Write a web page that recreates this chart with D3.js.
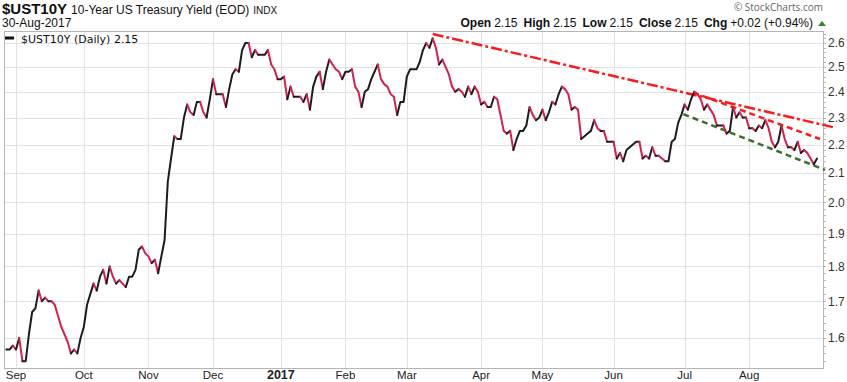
<!DOCTYPE html>
<html><head><meta charset="utf-8">
<script src="https://cdn.jsdelivr.net/npm/d3@7"></script>
<style>body{margin:0;background:#fff}svg{display:block}</style>
</head><body><svg id="c" width="847" height="382"></svg>
<script>
// Daily closes, 29-Aug-2016 .. 30-Aug-2017 (bond-market trading days)
const values = [
  1.57,1.57,1.58,
  // Sep
  1.57,1.60,1.54,1.54,1.61,1.67,1.68,1.73,1.70,1.71,1.70,1.70,1.69,1.66,1.63,1.61,1.59,1.56,1.57,1.56,1.60,
  // Oct
  1.63,1.69,1.72,1.75,1.73,1.77,1.79,1.75,1.80,1.77,1.75,1.76,1.75,1.74,1.77,1.77,1.79,1.85,1.86,1.84,
  // Nov
  1.83,1.81,1.82,1.78,1.83,1.88,2.07,2.15,2.23,2.22,2.22,2.30,2.35,2.32,2.31,2.36,2.36,2.32,2.30,2.37,
  // Dec
  2.45,2.39,2.39,2.39,2.34,2.41,2.47,2.49,2.48,2.57,2.60,2.60,2.54,2.57,2.55,2.55,2.55,2.57,2.51,2.49,2.45,
  // Jan
  2.45,2.46,2.37,2.42,2.38,2.38,2.38,2.36,2.39,2.33,2.42,2.46,2.48,2.41,2.48,2.53,2.51,2.49,2.48,2.45,
  // Feb
  2.48,2.48,2.49,2.42,2.40,2.34,2.40,2.41,2.45,2.48,2.51,2.45,2.43,2.42,2.39,2.38,2.31,2.36,2.36,
  // Mar
  2.46,2.49,2.49,2.49,2.52,2.57,2.60,2.58,2.62,2.58,2.51,2.53,2.50,2.47,2.42,2.40,2.41,2.40,2.38,2.42,2.39,2.42,2.40,
  // Apr
  2.35,2.36,2.34,2.34,2.38,2.37,2.31,2.25,2.24,2.25,2.18,2.22,2.25,2.25,2.27,2.34,2.31,2.29,2.30,
  // May
  2.33,2.29,2.32,2.36,2.35,2.39,2.42,2.41,2.39,2.33,2.34,2.33,2.22,2.23,2.24,2.25,2.29,2.26,2.25,2.25,2.21,2.21,
  // Jun
  2.21,2.15,2.17,2.14,2.18,2.19,2.20,2.21,2.21,2.15,2.16,2.15,2.19,2.16,2.16,2.15,2.14,2.14,2.21,2.22,2.28,2.31,
  // Jul
  2.35,2.33,2.37,2.40,2.39,2.37,2.33,2.35,2.33,2.31,2.27,2.27,2.27,2.24,2.25,2.34,2.30,2.32,2.30,2.30,
  // Aug
  2.26,2.26,2.25,2.27,2.26,2.29,2.26,2.21,2.19,2.21,2.27,2.22,2.19,2.19,2.18,2.21,2.17,2.18,2.17,2.15,2.13,2.15
];
const monthLabels = ["Sep","Oct","Nov","Dec","2017","Feb","Mar","Apr","May","Jun","Jul","Aug"];
const monthStartIndex = [3,24,44,64,85,105,124,147,166,188,210,230];
const yTickValues = [1.6,1.7,1.8,1.9,2.0,2.1,2.2,2.3,2.4,2.5,2.6];
// trend lines: [index, value] endpoints
const trendDashDot = [[132, 2.639],[255.9, 2.264]];
const trendRedDash = [[212.6, 2.397],[251.9, 2.22]];
const trendGreenDash = [[209.6, 2.313],[253.5, 2.110]];
const headerQuote = [["Open","2.15"],["High","2.15"],["Low","2.15"],["Close","2.15"],["Chg","+0.02 (+0.94%)"]];

const svg = d3.select("#c");
const L = 4, R = 823, T = 31, B = 368;
const x = d3.scaleLinear().domain([-0.715, 252.85]).range([L, R]);
const y = d3.scaleLog().domain([1.523, 2.652]).range([B, T]);
const font = "'Liberation Sans', Arial, sans-serif";

// grid
const g = svg.append("g");
g.selectAll(".hg").data(yTickValues).join("line")
  .attr("x1", L).attr("x2", R)
  .attr("y1", d => Math.round(y(d)) + 0.5).attr("y2", d => Math.round(y(d)) + 0.5)
  .attr("stroke", "#e2e2e2").attr("stroke-width", 1);
g.selectAll(".vg").data(monthStartIndex).join("line")
  .attr("y1", T).attr("y2", B)
  .attr("x1", d => Math.round(x(d)) + 0.5).attr("x2", d => Math.round(x(d)) + 0.5)
  .attr("stroke", "#e2e2e2").attr("stroke-width", 1);

// minor ticks on right axis
const minor = d3.range(154, 266, 2).map(v => v / 100);
g.selectAll(".mt").data(minor).join("line")
  .attr("x1", R + 1).attr("x2", R + 3)
  .attr("y1", d => Math.round(y(d)) + 0.5).attr("y2", d => Math.round(y(d)) + 0.5)
  .attr("stroke", "#bbb").attr("stroke-width", 1);

// frame
svg.append("rect").attr("x", L + 0.5).attr("y", T + 0.5).attr("width", R - L).attr("height", B - T)
  .attr("fill", "none").attr("stroke", "#b5b5b5");

// y labels
svg.selectAll(".yl").data(yTickValues).join("text")
  .attr("x", R + 5).attr("y", d => y(d)).attr("dy", "0.36em")
  .attr("font-family", font).attr("font-size", 12).attr("fill", "#333")
  .text(d => d.toFixed(1));

// x labels
svg.selectAll(".xl").data(monthLabels).join("text")
  .attr("x", (d, i) => x(monthStartIndex[i])).attr("y", 379)
  .attr("text-anchor", "middle").attr("font-family", font)
  .attr("font-size", (d) => d === "2017" ? 12.5 : 11.5)
  .attr("font-weight", d => d === "2017" ? "bold" : "normal")
  .attr("fill", "#222").text(d => d);

// trend lines
const tl = d3.line().x(d => x(d[0])).y(d => y(d[1]));
svg.append("path").attr("d", tl(trendDashDot)).attr("fill", "none")
  .attr("stroke", "#ff1a1a").attr("stroke-width", 2.5).attr("stroke-dasharray", "11,3,3,3");
svg.append("path").attr("d", tl(trendRedDash)).attr("fill", "none")
  .attr("stroke", "#ff1a1a").attr("stroke-width", 2.5).attr("stroke-dasharray", "6,4");
svg.append("path").attr("d", tl(trendGreenDash)).attr("fill", "none")
  .attr("stroke", "#3f6f2a").attr("stroke-width", 2.5).attr("stroke-dasharray", "6,4");

// price line colored by direction
const runs = [];
for (let i = 1; i < values.length; i++) {
  const up = values[i] >= values[i - 1];
  const last = runs[runs.length - 1];
  if (last && last.up === up) last.pts.push(i);
  else runs.push({up, pts: [i - 1, i]});
}
const pl = d3.line().x(i => x(i)).y(i => y(values[i]));
svg.append("g").selectAll("path").data(runs).join("path")
  .attr("d", d => pl(d.pts)).attr("fill", "none")
  .attr("stroke", d => d.up ? "#1c1c1c" : "#d81e4c")
  .attr("stroke-width", 2).attr("stroke-linejoin", "round").attr("stroke-linecap", "round");

// legend
svg.append("line").attr("x1", 5).attr("x2", 14).attr("y1", 38).attr("y2", 38)
  .attr("stroke", "#111").attr("stroke-width", 3);
svg.append("text").attr("x", 21).attr("y", 42.5)
  .attr("font-family", "'DejaVu Sans', Verdana, sans-serif").attr("font-size", 11).attr("fill", "#111")
  .text("$UST10Y (Daily) " + values[values.length - 1].toFixed(2));

// header
const h = svg.append("text").attr("x", 2).attr("y", 14).attr("font-family", font).attr("fill", "#111");
h.append("tspan").attr("font-weight", "bold").attr("font-size", 15).text("$UST10Y");
h.append("tspan").attr("font-size", 12).attr("dx", 4).text("10-Year US Treasury Yield (EOD)");
h.append("tspan").attr("font-size", 10).attr("dx", 4).text("INDX");
svg.append("text").attr("x", 2).attr("y", 27).attr("font-family", font).attr("font-size", 12)
  .attr("fill", "#111").text("30-Aug-2017");

svg.append("text").attr("x", 823).attr("y", 11).attr("text-anchor", "end")
  .attr("font-family", "'Open Sans', 'DejaVu Sans', sans-serif").attr("font-size", 10).attr("fill", "#666")
  .text("\u00A9 StockCharts.com");

const q = svg.append("text").attr("x", 813).attr("y", 27).attr("text-anchor", "end")
  .attr("font-family", font).attr("font-size", 12).attr("fill", "#111");
headerQuote.forEach((p, i) => {
  q.append("tspan").attr("font-weight", "bold").attr("dx", i ? 6 : 0).text(p[0]);
  q.append("tspan").attr("dx", 3).text(p[1]);
});
svg.append("path").attr("d", "M818,26 L826,26 L822,21 Z").attr("fill", "#2f8a2f");
</script>
</body></html>
